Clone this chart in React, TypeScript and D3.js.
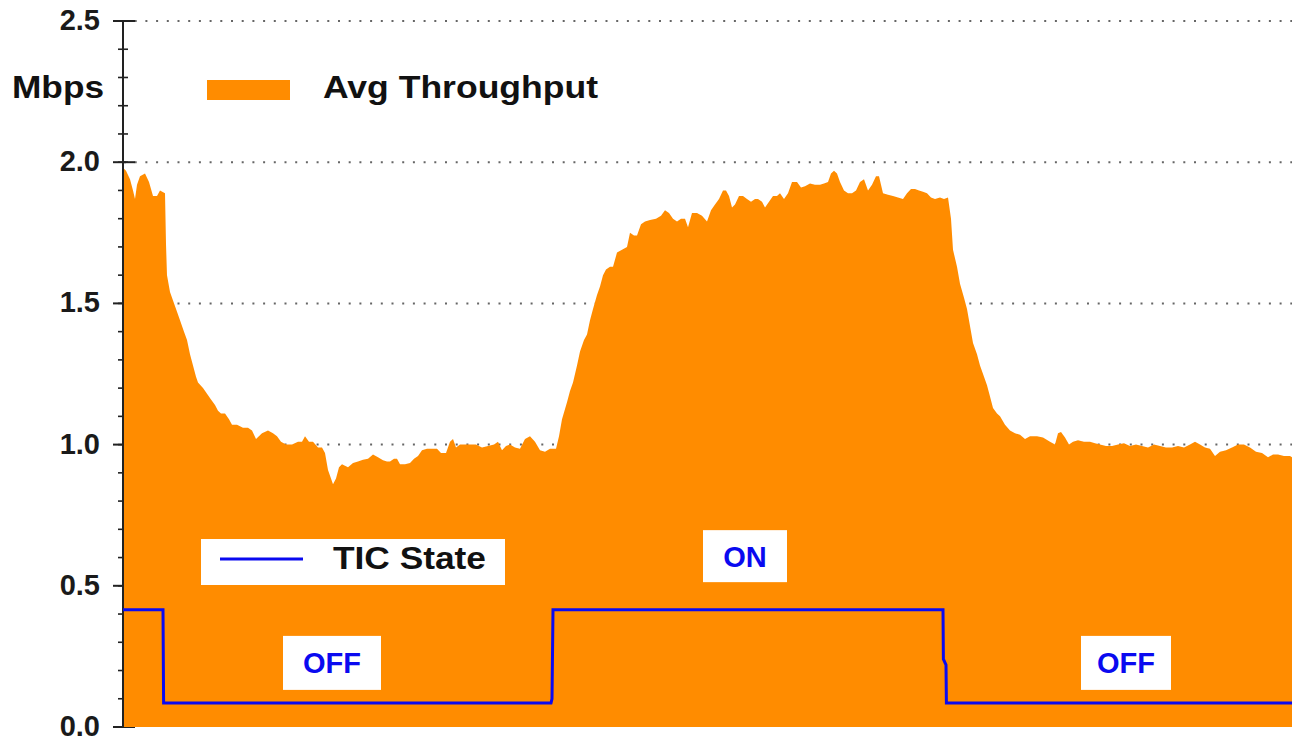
import React, { useEffect, useRef } from "react";
import * as d3 from "d3";

// time in seconds, throughput in Mbps
const throughputTime = [
  0, 1.5, 3.5, 5, 6, 7, 8.5, 11, 13, 15, 17, 18.5, 21, 21.5, 22, 23.5, 25, 27, 28.5, 30.5,
  32, 33.5, 35, 36.5, 37.5, 40, 42, 44, 46, 47.5, 49, 51, 53, 54.5, 57, 60, 62.5, 64.5, 66.5, 69.5,
  72.5, 75, 77, 79, 81.5, 84.5, 87.5, 89.5, 91, 93, 95, 97.5, 99.5, 101, 102.5, 104, 105, 106.5, 108, 109.5,
  111, 112.5, 115, 117.5, 120, 122.5, 125, 127.5, 130, 132, 133.5, 135.5, 137, 138.5, 141, 143.5, 145.5, 147.5, 149.5, 152,
  154.5, 157, 159, 161.5, 163.5, 165, 166.5, 168.5, 171, 173.5, 176.5, 179.5, 182.5, 185.5, 187.5, 189.5, 191.5, 193.5, 196, 198.5,
  201, 203.5, 206, 208.5, 211, 213.5, 216.5, 218, 219.5, 222, 223.5, 225, 227, 228.5, 230.5, 232, 233.5, 235, 237, 238.5,
  240, 241.5, 243.5, 245, 247, 249.5, 252, 253.5, 255.5, 257, 259, 261, 263.5, 266.5, 269, 271, 273, 275, 277, 279,
  281, 282.5, 284.5, 287, 289.5, 292, 294, 296, 298, 300, 301.5, 303, 304.5, 306, 308, 310, 312, 314, 316, 317.5,
  319.5, 321, 323, 325, 327, 328.5, 330.5, 332.5, 334.5, 337, 339, 341, 343.5, 346, 348.5, 350.5, 352.5, 354, 355.5, 357,
  358.5, 360.5, 362.5, 364.5, 366.5, 368.5, 370.5, 372.5, 374.5, 376.5, 378, 380, 382.5, 385, 387.5, 390, 392, 394, 396, 398,
  400, 402, 404, 406, 408.5, 410.5, 412.5, 414, 415, 417, 418.5, 420.5, 422, 423.5, 425, 427, 428.5, 430.5, 432, 433.5,
  435, 437, 438.5, 441, 443.5, 446, 448.5, 451, 453.5, 457, 460, 463.5, 466, 467.5, 469, 471, 473, 475, 477.5, 480.5,
  483.5, 486, 488.5, 491.5, 494.5, 497.5, 500.5, 503.5, 506.5, 509.5, 512.5, 515.5, 518.5, 521.5, 524.5, 527.5, 530.5, 533.5, 536, 538.5,
  541, 543.5, 546, 548.5, 551.5, 554.5, 557.5, 560.5, 563.5, 566.5, 569.5, 572.5, 575, 577.5, 580.5, 583.5, 584.5,
];
const throughput = [
  1.98, 1.97, 1.94, 1.9, 1.87, 1.92, 1.95, 1.96, 1.93, 1.88, 1.88, 1.9, 1.89, 1.71, 1.6, 1.54, 1.51, 1.47, 1.44, 1.4,
  1.37, 1.32, 1.28, 1.24, 1.22, 1.2, 1.18, 1.16, 1.14, 1.12, 1.11, 1.11, 1.09, 1.07, 1.07, 1.06, 1.06, 1.05, 1.02, 1.04,
  1.05, 1.04, 1.03, 1.01, 1.0, 1.0, 1.01, 1.01, 1.03, 1.01, 1.01, 0.99, 0.99, 0.97, 0.91, 0.88, 0.86, 0.88, 0.92, 0.93,
  0.925, 0.92, 0.935, 0.94, 0.946, 0.95, 0.965, 0.955, 0.945, 0.94, 0.94, 0.95, 0.95, 0.93, 0.93, 0.935, 0.95, 0.96, 0.98, 0.985,
  0.985, 0.985, 0.97, 0.97, 1.01, 1.02, 0.99, 1.0, 1.0, 1.0, 1.0, 0.99, 0.995, 1.0, 1.01, 0.98, 0.995, 1.0, 0.99, 0.985,
  1.02, 1.03, 1.01, 0.98, 0.975, 0.985, 0.985, 1.03, 1.09, 1.15, 1.19, 1.22, 1.28, 1.33, 1.37, 1.39, 1.44, 1.48, 1.53, 1.56,
  1.6, 1.62, 1.63, 1.63, 1.68, 1.69, 1.7, 1.75, 1.74, 1.74, 1.78, 1.79, 1.795, 1.8, 1.81, 1.83, 1.82, 1.8, 1.79, 1.8,
  1.8, 1.77, 1.82, 1.82, 1.81, 1.79, 1.83, 1.85, 1.87, 1.9, 1.9, 1.88, 1.84, 1.85, 1.88, 1.88, 1.87, 1.86, 1.87, 1.87,
  1.86, 1.84, 1.86, 1.88, 1.88, 1.89, 1.87, 1.89, 1.93, 1.93, 1.91, 1.915, 1.925, 1.92, 1.92, 1.925, 1.93, 1.96, 1.97, 1.96,
  1.93, 1.9, 1.89, 1.89, 1.9, 1.93, 1.94, 1.9, 1.92, 1.95, 1.95, 1.89, 1.885, 1.88, 1.875, 1.87, 1.89, 1.905, 1.905, 1.9,
  1.895, 1.89, 1.875, 1.87, 1.875, 1.87, 1.875, 1.8, 1.69, 1.63, 1.57, 1.52, 1.48, 1.42, 1.36, 1.32, 1.28, 1.24, 1.21, 1.17,
  1.13, 1.11, 1.1, 1.07, 1.05, 1.04, 1.035, 1.02, 1.03, 1.03, 1.025, 1.01, 1.0, 1.04, 1.045, 1.025, 1.0, 1.01, 1.015, 1.01,
  1.01, 1.005, 1.0, 0.995, 0.995, 1.0, 1.005, 0.995, 1.0, 0.995, 0.99, 1.0, 0.995, 0.99, 0.99, 0.995, 0.99, 1.0, 1.01, 1.0,
  0.99, 0.985, 0.96, 0.975, 0.98, 0.99, 1.0, 1.0, 0.99, 0.975, 0.97, 0.955, 0.965, 0.965, 0.96, 0.96, 0.955,
];

// TIC state trace (drawn on the Mbps scale)
const ticTime = [0, 20, 20.3, 214, 214.5, 215, 410, 410.2, 411.5, 411.7, 585];
const ticLevel = [0.415, 0.415, 0.085, 0.085, 0.1, 0.415, 0.415, 0.24, 0.22, 0.085, 0.085];

const yTicks = [0, 0.5, 1.0, 1.5, 2.0, 2.5];
const gridValues = [1.0, 1.5, 2.0, 2.5];
const minorTicks = d3.range(0, 25).map((d) => d / 10);

const stateLabels = [
  { text: "OFF", t: 104.5, v: 0.227, w: 98, h: 54 },
  { text: "ON", t: 311, v: 0.605, w: 84, h: 52 },
  { text: "OFF", t: 501.5, v: 0.227, w: 90, h: 54 },
];

const App = () => {
  const svgRef = useRef(null);

  useEffect(() => {
    const width = 1292;
    const height = 737;
    const svg = d3.select(svgRef.current);
    svg.selectAll("*").remove();

    const x = d3.scaleLinear().domain([0, 584.5]).range([123, 1292]);
    const y = d3.scaleLinear().domain([0, 2.5]).range([727, 21]);

    svg.append("rect").attr("width", width).attr("height", height).attr("fill", "#fff");

    // dotted grid lines
    svg
      .append("g")
      .selectAll("line")
      .data(gridValues)
      .join("line")
      .attr("x1", 124)
      .attr("x2", width)
      .attr("y1", (d) => y(d))
      .attr("y2", (d) => y(d))
      .attr("stroke", "#666")
      .attr("stroke-width", 2)
      .attr("stroke-dasharray", "2,8.7");

    // ticks
    svg
      .append("g")
      .selectAll("line")
      .data(minorTicks)
      .join("line")
      .attr("x1", 118)
      .attr("x2", 128)
      .attr("y1", (d) => y(d))
      .attr("y2", (d) => y(d))
      .attr("stroke", "#222")
      .attr("stroke-width", 1.6);
    svg
      .append("g")
      .selectAll("line")
      .data(yTicks)
      .join("line")
      .attr("x1", 113)
      .attr("x2", 135)
      .attr("y1", (d) => y(d))
      .attr("y2", (d) => y(d))
      .attr("stroke", "#222")
      .attr("stroke-width", 2);

    // throughput area
    const pts = throughputTime.map((t, i) => [t, throughput[i]]);
    const area = d3
      .area()
      .x((d) => x(d[0]))
      .y0(y(0))
      .y1((d) => y(d[1]));
    svg.append("path").datum(pts).attr("d", area).attr("fill", "#ff8c00");

    // axis line
    svg
      .append("line")
      .attr("x1", 123)
      .attr("x2", 123)
      .attr("y1", y(2.5))
      .attr("y2", y(0))
      .attr("stroke", "#222")
      .attr("stroke-width", 2);

    svg
      .append("g")
      .selectAll("text")
      .data(yTicks)
      .join("text")
      .attr("x", 100)
      .attr("y", (d) => y(d))
      .attr("dy", "0.31em")
      .attr("text-anchor", "end")
      .attr("font-family", "Liberation Sans, Arial, sans-serif")
      .attr("font-weight", "bold")
      .attr("font-size", 29)
      .attr("fill", "#1a1a1a")
      .text((d) => d3.format(".1f")(d));

    svg
      .append("text")
      .attr("x", 12)
      .attr("y", 98)
      .attr("font-family", "Liberation Sans, Arial, sans-serif")
      .attr("font-weight", "bold")
      .attr("font-size", 32)
      .attr("textLength", 92)
      .attr("lengthAdjust", "spacingAndGlyphs")
      .attr("fill", "#111")
      .text("Mbps");

    // throughput legend
    svg.append("rect").attr("x", 207).attr("y", 80).attr("width", 83).attr("height", 20).attr("fill", "#ff8c00");
    svg
      .append("text")
      .attr("x", 323)
      .attr("y", 98)
      .attr("font-family", "Liberation Sans, Arial, sans-serif")
      .attr("font-weight", "bold")
      .attr("font-size", 32)
      .attr("textLength", 275)
      .attr("lengthAdjust", "spacingAndGlyphs")
      .attr("fill", "#111")
      .text("Avg Throughput");

    // TIC state line
    const tic = ticTime.map((t, i) => [t, ticLevel[i]]);
    const line = d3
      .line()
      .x((d) => x(d[0]))
      .y((d) => y(d[1]));
    svg
      .append("path")
      .datum(tic)
      .attr("d", line)
      .attr("fill", "none")
      .attr("stroke", "#0a0af0")
      .attr("stroke-width", 3);

    // TIC legend
    svg.append("rect").attr("x", 201).attr("y", 539).attr("width", 304).attr("height", 46).attr("fill", "#fff");
    svg
      .append("line")
      .attr("x1", 220)
      .attr("x2", 303)
      .attr("y1", 559)
      .attr("y2", 559)
      .attr("stroke", "#0a0af0")
      .attr("stroke-width", 3);
    svg
      .append("text")
      .attr("x", 333)
      .attr("y", 569)
      .attr("font-family", "Liberation Sans, Arial, sans-serif")
      .attr("font-weight", "bold")
      .attr("font-size", 32)
      .attr("textLength", 153)
      .attr("lengthAdjust", "spacingAndGlyphs")
      .attr("fill", "#111")
      .text("TIC State");

    // ON / OFF labels
    const lab = svg.append("g").selectAll("g").data(stateLabels).join("g");
    lab
      .append("rect")
      .attr("x", (d) => x(d.t) - d.w / 2)
      .attr("y", (d) => y(d.v) - d.h / 2)
      .attr("width", (d) => d.w)
      .attr("height", (d) => d.h)
      .attr("fill", "#fff");
    lab
      .append("text")
      .attr("x", (d) => x(d.t))
      .attr("y", (d) => y(d.v))
      .attr("dy", "0.36em")
      .attr("text-anchor", "middle")
      .attr("font-family", "Liberation Sans, Arial, sans-serif")
      .attr("font-weight", "bold")
      .attr("font-size", 29)
      .attr("fill", "#0a0af0")
      .text((d) => d.text);
  }, []);

  return (
    <svg
      ref={svgRef}
      width={1292}
      height={737}
      style={{ position: "absolute", left: 0, top: 0, display: "block" }}
    />
  );
};

export default App;
